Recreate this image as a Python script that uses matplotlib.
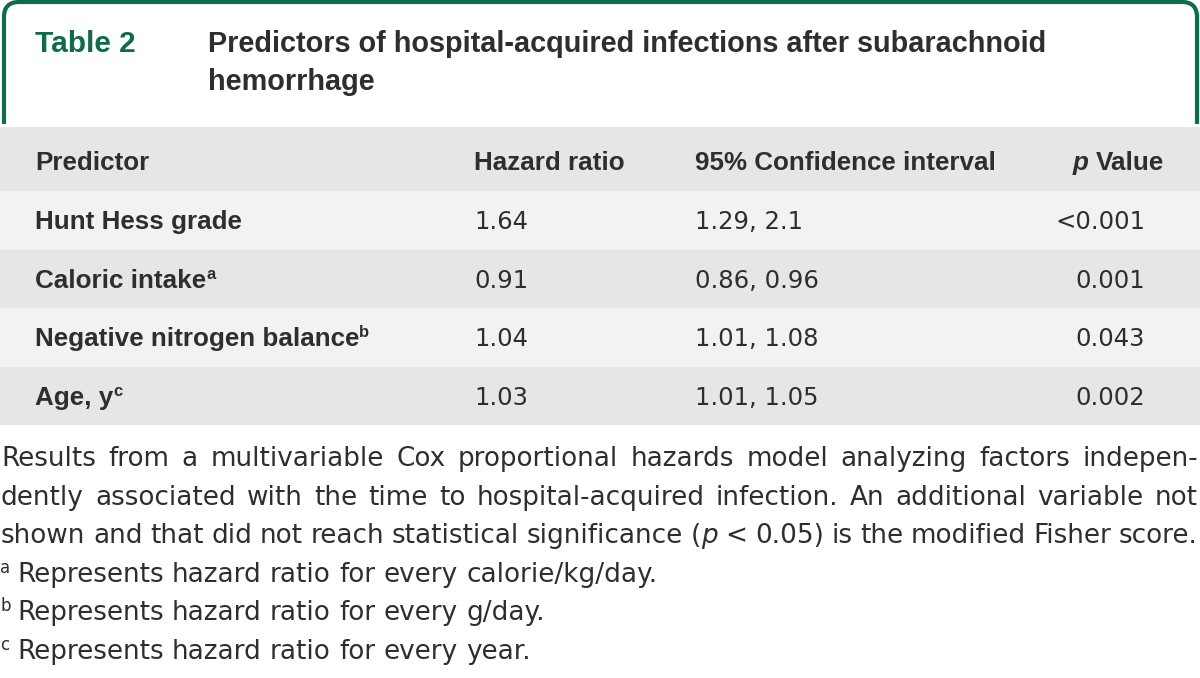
import matplotlib
matplotlib.use("Agg")
import matplotlib.pyplot as plt
from matplotlib.path import Path
from matplotlib.patches import PathPatch, Rectangle

# Table content
table_label = "Table 2"
title_lines = ["Predictors of hospital-acquired infections after subarachnoid",
               "hemorrhage"]
columns = ["Predictor", "Hazard ratio", "95% Confidence interval", "p Value"]
predictors = ["Hunt Hess grade", "Caloric intake", "Negative nitrogen balance", "Age, y"]
predictor_marks = ["", "a", "b", "c"]
hazard_ratios = ["1.64", "0.91", "1.04", "1.03"]
ci_lower = ["1.29", "0.86", "1.01", "1.01"]
ci_upper = ["2.1", "0.96", "1.08", "1.05"]
p_values = ["<0.001", "0.001", "0.043", "0.002"]

note_lines = [
    "Results from a multivariable Cox proportional hazards model analyzing factors indepen-",
    "dently associated with the time to hospital-acquired infection. An additional variable not",
    "shown and that did not reach statistical significance (*p* < 0.05) is the modified Fisher score.",
]
footnote_marks = ["a", "b", "c"]
footnote_texts = ["Represents hazard ratio for every calorie/kg/day.",
                  "Represents hazard ratio for every g/day.",
                  "Represents hazard ratio for every year."]

GREEN = "#0f6b48"
DARK = "#2e2e2e"
GRAY = "#e6e6e6"
LIGHT = "#f1f2f2"
BOLD_FONT = "Liberation Sans"
REG_FONT = "DejaVu Sans"

W, H = 1200, 678
fig = plt.figure(figsize=(W / 100, H / 100), dpi=100)
ax = fig.add_axes([0, 0, 1, 1])
ax.set_xlim(0, W)
ax.set_ylim(H, 0)
ax.axis("off")
fig.canvas.draw()
renderer = fig.canvas.get_renderer()


def bold(size, **kw):
    return dict(family=BOLD_FONT, weight="bold", size=size, **kw)


def reg(size, **kw):
    return dict(family=REG_FONT, size=size, **kw)


def measure(s, props):
    p = {k: v for k, v in props.items() if k != "rise"}
    t = ax.text(0, 0, s, **p)
    w = t.get_window_extent(renderer).width
    t.remove()
    return w


def draw_words(x, y, words, space_props, right=None, justify=None):
    # words: list of runs [(text, props)]
    widths = [sum(measure(s, p) for s, p in w) for w in words]
    gap = measure("a a", space_props) - measure("aa", space_props)
    if justify is not None and len(words) > 1:
        gap = (justify - x - sum(widths)) / (len(words) - 1)
    total = sum(widths) + gap * (len(words) - 1)
    if right is not None:
        x = right - total
    for w, ww in zip(words, widths):
        cx = x
        for s, p in w:
            p = dict(p)
            rise = p.pop("rise", 0)
            ax.text(cx, y - rise, s, va="baseline", ha="left", color=DARK, **p)
            cx += measure(s, p)
        x += ww + gap


# green header frame
r = 15
verts = [(4, 124), (4, 2 + r), (4, 2), (4 + r, 2), (1197 - r, 2), (1197, 2),
         (1197, 2 + r), (1197, 124)]
codes = [Path.MOVETO, Path.LINETO, Path.CURVE3, Path.CURVE3, Path.LINETO,
         Path.CURVE3, Path.CURVE3, Path.LINETO]
ax.add_patch(PathPatch(Path(verts, codes), fill=False, edgecolor=GREEN, lw=3.0))

ax.text(35, 52, table_label, color=GREEN, va="baseline", **bold(21.5))
for i, line in enumerate(title_lines):
    ax.text(208, 52 + 38 * i, line, color=DARK, va="baseline", **bold(20.8))

# table bands
header_top, header_bottom = 127, 191
row_h = 58.5
ax.add_patch(Rectangle((0, header_top), W, header_bottom - header_top, color=GRAY, lw=0))
for i in range(len(predictors)):
    ax.add_patch(Rectangle((0, header_bottom + i * row_h), W, row_h,
                           color=LIGHT if i % 2 == 0 else GRAY, lw=0))

BS = 18.7   # bold table text
RS = 17.5   # regular table text
col_x = [35, 474, 695]
hb = 170
for cx, name in zip(col_x, columns[:3]):
    ax.text(cx, hb, name, color=DARK, va="baseline", **bold(BS))
pv = columns[3].split(" ", 1)
draw_words(0, hb, [[(pv[0], bold(BS, style="italic"))], [(pv[1], bold(BS))]],
           bold(BS), right=1164)

for i in range(len(predictors)):
    yb = header_bottom + (i + 0.5) * row_h + 9
    run = [(predictors[i], bold(BS))]
    if predictor_marks[i]:
        run.append((predictor_marks[i], bold(12, rise=9)))
    draw_words(col_x[0], yb, [run], bold(BS))
    ax.text(col_x[1], yb, hazard_ratios[i], color=DARK, va="baseline", **reg(RS))
    ax.text(col_x[2], yb, f"{ci_lower[i]}, {ci_upper[i]}", color=DARK, va="baseline", **reg(RS))
    ax.text(1145, yb, p_values[i], color=DARK, va="baseline", ha="right", **reg(RS))

# notes below the table
NS = 18.9
y0 = 466
lh = 38.6
for i, line in enumerate(note_lines):
    words = []
    for tok in line.split(" "):
        if "*p*" in tok:
            pre, post = tok.split("*p*")
            w = []
            if pre:
                w.append((pre, reg(NS)))
            w.append(("p", reg(NS, style="italic")))
            if post:
                w.append((post, reg(NS)))
            words.append(w)
        else:
            words.append([(tok, reg(NS))])
    draw_words(1, y0 + i * lh, words, reg(NS), justify=1198)

for j, (mark, txt) in enumerate(zip(footnote_marks, footnote_texts)):
    yb = y0 + (len(note_lines) + j) * lh
    ax.text(0, yb - 9, mark, color=DARK, va="baseline", **reg(12))
    draw_words(17, yb, [[(tok, reg(NS))] for tok in txt.split(" ")], reg(NS))

fig.savefig("out.png", dpi=100, facecolor="white")
